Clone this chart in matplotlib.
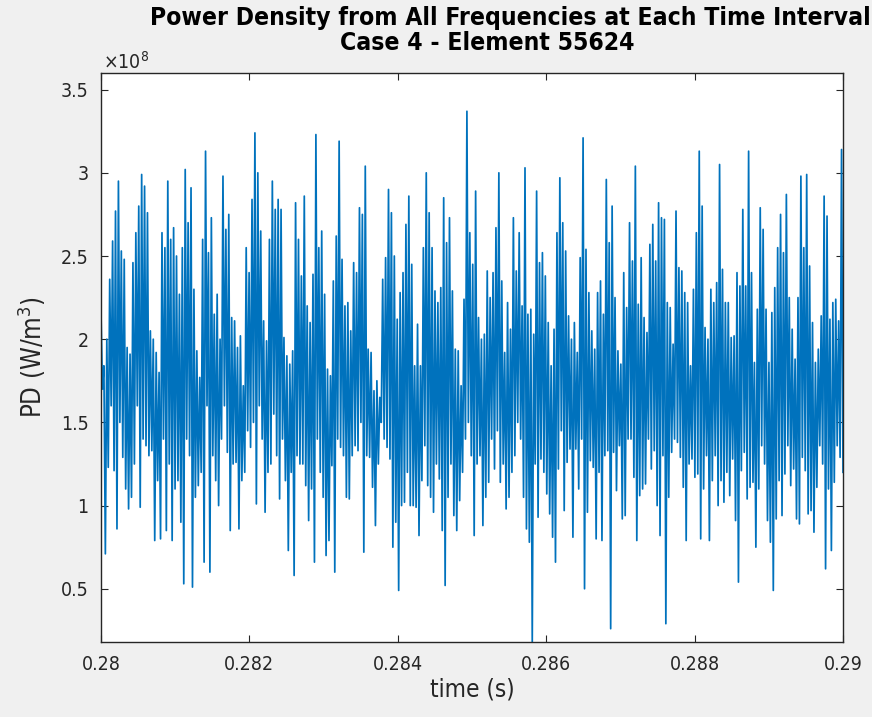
import numpy as np
import matplotlib
matplotlib.use("Agg")
import matplotlib.pyplot as plt

# ---- data (power density, units of 1e8 W/m^3), read as alternating peaks/troughs ----
seg1_hi = [2.16, 1.84, 2.00, 2.36, 2.59, 2.77, 2.95, 2.53, 2.48, 1.95, 1.91, 2.46, 2.64, 2.80, 2.99,
           2.92, 2.76, 2.05, 2.00, 1.92, 1.80, 2.64, 2.55, 2.95, 2.60, 2.67, 2.50, 2.27, 2.55, 3.02,
           2.70, 2.91, 2.30, 1.93, 1.77, 2.60, 3.13, 2.52, 2.73, 2.15, 2.27, 2.00, 2.98]
seg1_lo = [1.70, 0.71, 1.23, 1.60, 1.21, 0.86, 1.50, 1.29, 1.10, 0.98, 1.05, 1.25, 1.60, 0.99, 1.40,
           1.36, 1.30, 1.33, 0.79, 1.15, 0.80, 1.40, 0.85, 1.25, 0.79, 1.10, 1.15, 0.90, 0.53, 1.40,
           1.30, 0.51, 1.05, 1.12, 1.20, 0.66, 1.60, 0.60, 1.30, 1.15, 1.00, 1.40, 1.60]

seg2_hi = [2.66, 2.75, 2.13, 2.11, 1.95, 2.02, 1.72, 2.55, 2.40, 2.84, 3.24, 3.00, 2.65, 2.11, 1.99,
           2.60, 2.95, 2.78, 2.84, 2.78, 2.01, 1.90, 1.85, 1.93, 2.82, 2.60, 2.38, 2.86, 2.20, 2.10,
           2.39, 3.23, 2.55, 2.65, 2.27, 1.82, 1.78, 2.35, 2.62, 3.19, 2.48, 2.20]
seg2_lo = [1.32, 0.85, 1.25, 1.26, 0.86, 1.15, 1.20, 1.45, 1.35, 1.50, 1.01, 1.60, 1.40, 0.96, 1.20,
           1.25, 1.55, 1.30, 1.04, 1.40, 1.15, 0.73, 1.20, 0.58, 1.30, 1.25, 1.25, 1.12, 0.91, 1.10,
           0.66, 1.40, 1.20, 1.05, 0.70, 0.79, 1.24, 0.60, 1.40, 1.35, 1.30, 1.05]

seg3_hi = [2.22, 2.05, 2.46, 2.40, 2.79, 2.75, 3.04, 1.94, 1.92, 1.69, 1.75, 1.65, 2.36, 2.49, 2.90,
           2.76, 2.50, 2.12, 2.28, 2.40, 2.69, 2.86, 2.45, 1.84, 2.09, 1.84, 2.55, 3.00, 2.76, 2.55,
           2.29, 2.22, 2.31, 2.85, 2.58, 2.73, 2.29, 1.94, 1.93, 1.72, 2.24, 3.37, 2.64]
seg3_lo = [1.04, 1.30, 1.36, 1.33, 1.50, 0.72, 1.30, 1.29, 1.11, 0.88, 1.25, 1.50, 1.40, 1.35, 1.28,
           0.75, 0.90, 0.49, 1.00, 1.02, 1.20, 1.00, 1.00, 0.99, 0.82, 1.15, 1.36, 1.12, 1.05, 0.96,
           1.25, 1.16, 0.85, 0.52, 1.05, 1.25, 0.94, 0.85, 1.03, 1.20, 1.40, 1.50, 1.30]

seg4_hi = [2.45, 2.89, 2.13, 2.00, 2.03, 2.41, 2.25, 2.40, 2.67, 3.00, 2.35, 1.92, 2.22, 2.06, 2.73,
           2.41, 2.64, 2.20, 3.03, 2.15, 2.18, 2.03, 2.89, 2.46, 2.52, 2.38, 2.10, 1.84, 2.06, 2.64,
           2.97, 2.70, 2.53, 2.14, 2.00, 2.10, 1.92, 2.49, 3.21, 2.54, 2.28, 2.05, 1.94, 2.28]
seg4_lo = [0.82, 1.25, 1.30, 0.88, 1.05, 1.14, 1.40, 1.22, 1.45, 1.14, 1.25, 0.98, 1.05, 1.20, 1.30,
           1.50, 1.40, 1.05, 0.86, 0.78, 0.18, 1.25, 0.93, 1.28, 1.20, 1.07, 0.95, 0.81, 0.66, 1.22,
           1.45, 0.97, 1.26, 1.34, 0.81, 1.34, 1.10, 1.40, 0.50, 0.96, 1.27, 1.23, 0.80, 1.20]

seg5_hi = [2.35, 2.15, 2.96, 2.58, 2.80, 2.25, 1.93, 1.85, 2.40, 2.19, 2.70, 2.47, 3.04, 2.21, 2.49,
           2.13, 2.04, 2.57, 2.69, 2.47, 2.82, 2.73, 2.72, 2.22, 2.19, 1.97, 2.77, 2.43, 2.41, 2.28,
           2.22, 1.84, 2.30, 2.64, 3.13, 2.80, 2.07, 2.00, 2.30, 2.22, 2.34, 3.05, 2.42, 2.22]
seg5_lo = [0.79, 1.30, 1.33, 0.26, 1.32, 1.09, 1.36, 0.92, 0.94, 1.40, 1.40, 1.17, 0.79, 1.06, 1.10,
           1.13, 1.40, 1.22, 1.33, 1.00, 0.82, 1.30, 0.29, 1.05, 1.32, 1.40, 1.38, 1.29, 1.11, 0.79,
           1.25, 1.28, 1.17, 1.19, 0.80, 1.10, 1.30, 0.79, 1.15, 1.30, 1.00, 1.15, 1.02, 1.20]

seg6_hi = [2.22, 2.01, 2.02, 2.40, 2.32, 2.78, 2.32, 3.13, 2.40, 1.86, 2.18, 2.79, 2.66, 2.18, 1.86,
           2.16, 2.31, 2.55, 2.75, 2.52, 2.87, 2.25, 2.06, 1.88, 2.25, 2.98, 2.55, 2.99, 2.44, 2.10,
           1.86, 1.94, 2.14, 2.86, 2.74, 2.12, 2.22, 2.24, 2.11, 3.14]
seg6_lo = [1.06, 1.28, 0.91, 0.54, 1.21, 1.32, 1.04, 1.11, 1.14, 0.75, 1.10, 1.36, 1.25, 0.91, 0.78,
           0.49, 0.92, 1.15, 0.94, 1.19, 1.36, 1.12, 1.22, 0.92, 0.89, 1.29, 1.21, 0.95, 0.97, 0.84,
           1.11, 1.36, 1.25, 0.62, 1.10, 0.73, 1.14, 1.36, 1.29, 1.20]

x_ticks = [0.28, 0.282, 0.284, 0.286, 0.288, 0.29]
x_tick_labels = ["0.28", "0.282", "0.284", "0.286", "0.288", "0.29"]
y_ticks = [0.5, 1, 1.5, 2, 2.5, 3, 3.5]
y_tick_labels = ["0.5", "1", "1.5", "2", "2.5", "3", "3.5"]

# ---- assemble series ----
his = seg1_hi + seg2_hi + seg3_hi + seg4_hi + seg5_hi + seg6_hi
los = seg1_lo + seg2_lo + seg3_lo + seg4_lo + seg5_lo + seg6_lo
pd_vals = np.empty(2 * len(his))
pd_vals[0::2] = his
pd_vals[1::2] = los
time = np.linspace(0.28, 0.29, len(pd_vals))

plt.rcParams["font.family"] = ["DejaVu Sans"]
plt.rcParams["font.stretch"] = "condensed"

fig = plt.figure(figsize=(8.72, 7.17), dpi=100, facecolor="#f0f0f0")
ax = fig.add_axes([101 / 872, 1 - 642 / 717, (843 - 101) / 872, (642 - 73) / 717])
ax.set_facecolor("white")
ax.plot(time, pd_vals, color="#0072BD", lw=1.25)

ax.set_xlim(0.28, 0.29)
ax.set_ylim(0.18, 3.6)
ax.set_xticks(x_ticks)
ax.set_xticklabels(x_tick_labels)
ax.set_yticks(y_ticks)
ax.set_yticklabels(y_tick_labels)
ax.tick_params(direction="in", top=True, right=True, labelsize=14, color="#262626",
               labelcolor="#262626", length=5, width=0.8, pad=9)
for s in ax.spines.values():
    s.set_color("#262626")
    s.set_linewidth(1.0)

ax.set_xlabel("time (s)", fontsize=17.5, color="#262626", labelpad=3)
ax.set_ylabel("PD (W/m$^3$)", fontsize=18.5, color="#262626", labelpad=9)

fig.text(510 / 872, 1 - 18 / 717, "Power Density from All Frequencies at Each Time Interval",
         ha="center", va="center", fontsize=17.7, fontweight="bold", color="black")
fig.text(487 / 872, 1 - 43 / 717, "Case 4 - Element 55624",
         ha="center", va="center", fontsize=17.7, fontweight="bold", color="black")
fig.text(103 / 872, 1 - 62 / 717, r"$\times\mathregular{10^8}$", ha="left", va="center",
         fontsize=14, color="#262626")

fig.savefig("out.png", dpi=100, facecolor=fig.get_facecolor())
